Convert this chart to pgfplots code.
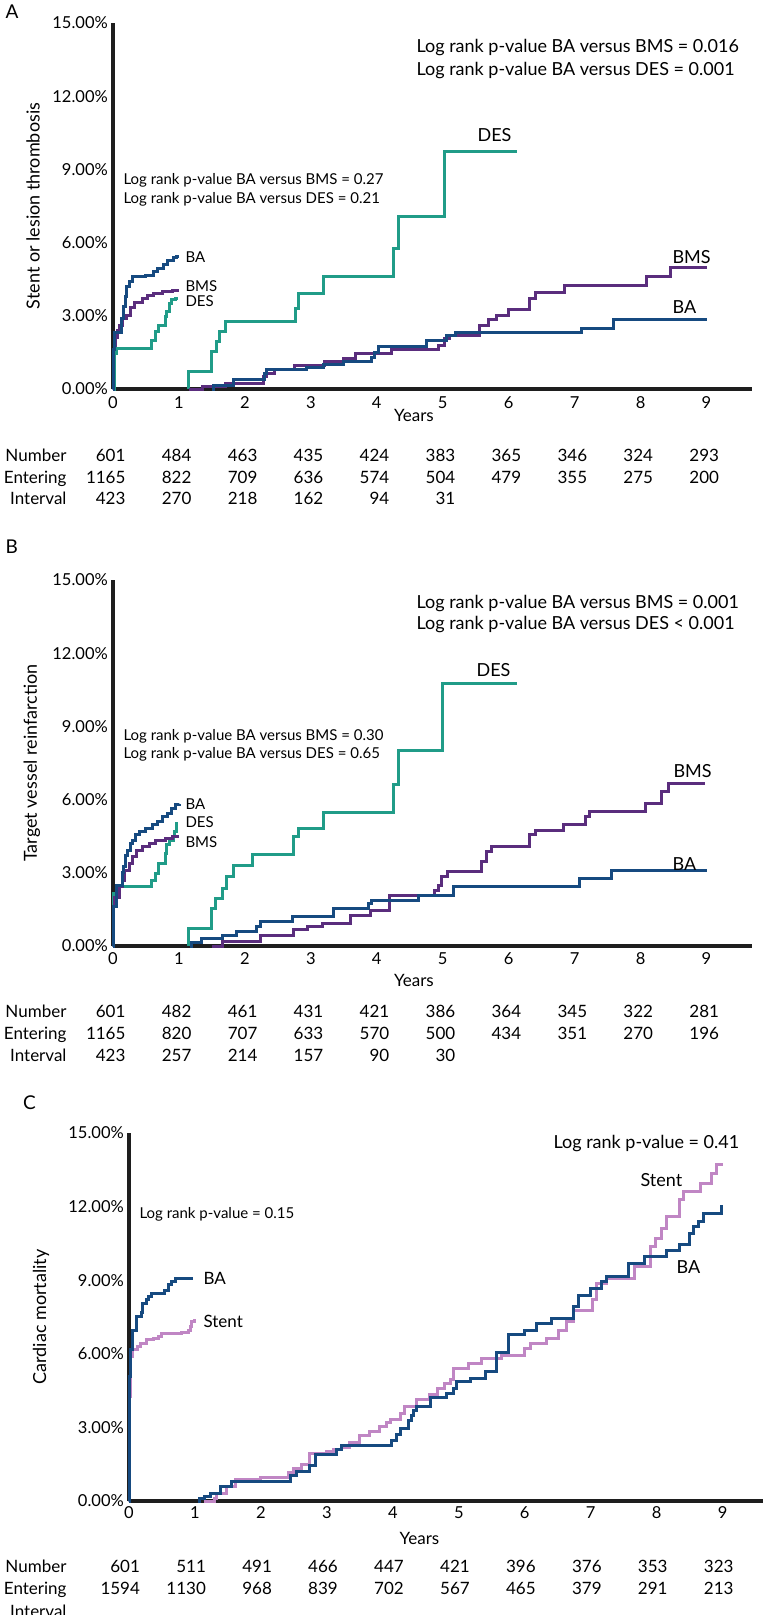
\documentclass[border=0pt]{standalone}
\usepackage{pgfplots}
\pgfplotsset{compat=1.18}
\usepackage{fontspec}
\setmainfont{Lato}
\definecolor{cBA}{RGB}{22,74,128}
\definecolor{cBMS}{RGB}{90,45,125}
\definecolor{cDES}{RGB}{32,156,136}
\definecolor{cST}{RGB}{192,134,196}
\definecolor{cAx}{RGB}{30,30,30}
\newcommand{\fs}[1]{\fontsize{#1pt}{#1pt}\selectfont}
\pgfplotsset{
 km/.style={scale only axis, anchor=south west, xmin=0, ymin=0, ymax=15,
  axis x line*=bottom, axis y line*=left,
  axis line style={-, line width=3.2pt, draw=cAx},
  xtick={0,1,2,3,4,5,6,7,8,9}, xticklabels={0,1,2,3,4,5,6,7,8,9},
  ytick={0,3,6,9,12,15}, yticklabels={0.00\%,3.00\%,6.00\%,9.00\%,12.00\%,15.00\%},
  major tick length=0pt, tick style={draw=none},
  xticklabel style={font=\fs{16.5}, anchor=center, inner sep=0pt},
  yticklabel style={font=\fs{16.5}, anchor=east, inner sep=0pt, xshift=-5pt},
  clip=false},
 kp/.style={const plot, line width=3pt, mark=none},
}
\newcommand{\riskrow}[4]{%
 \node[anchor=base east,font=\fs{17}] at (70pt,-#2pt) {#3};
 \foreach \v [count=\i from 0] in {#4} {\node[anchor=base east,font=\fs{17}] at ({#1pt+65.95pt*\i},-#2pt) {\v};}
}
\begin{document}
\begin{tikzpicture}
\useasboundingbox (0,0) rectangle (763pt,-1615pt);
% ---------------- Panel A ----------------
\begin{axis}[km, at={(113pt,-389pt)}, xmax=9.69, width=639pt, height=366pt,
  xticklabel style={yshift=-14pt}]
\addplot[kp, cBMS] coordinates {(0,0)(0.01,1.5)(0.04,2.1)(0.07,2.4)(0.1,2.6)(0.14,2.9)(0.2,3.0)(0.26,3.35)(0.33,3.55)(0.45,3.7)(0.52,3.85)(0.62,3.92)(0.75,3.98)(0.9,4.02)(1.0,4.02)};
\addplot[kp, cDES] coordinates {(0,0)(0.02,1.46)(0.05,1.67)(0.59,2.0)(0.64,2.35)(0.69,2.62)(0.79,2.96)(0.81,3.17)(0.86,3.51)(0.89,3.65)(0.95,3.69)(0.99,3.69)};
\addplot[kp, cBA] coordinates {(0,0)(0.01,1.6)(0.03,2.3)(0.13,2.9)(0.16,3.4)(0.19,3.8)(0.21,4.2)(0.25,4.4)(0.29,4.6)(0.5,4.67)(0.62,4.8)(0.68,4.95)(0.76,5.1)(0.82,5.25)(0.92,5.38)(0.97,5.42)(1.0,5.42)};
\addplot[kp, cDES] coordinates {(1.14,0)(1.14,0.71)(1.5,1.53)(1.57,1.94)(1.62,2.35)(1.7,2.78)(2.76,3.31)(2.81,3.92)(3.19,4.6)(4.25,5.77)(4.33,7.05)(5.02,9.75)(6.13,9.75)};
\addplot[kp, cBMS] coordinates {(1.16,0)(1.35,0.12)(1.7,0.22)(2.28,0.5)(2.33,0.64)(2.45,0.78)(2.75,0.98)(3.2,1.12)(3.5,1.26)(3.67,1.46)(4.22,1.6)(4.93,1.8)(5.03,2.05)(5.1,2.21)(5.56,2.62)(5.7,2.83)(5.82,3.03)(6.0,3.24)(6.32,3.72)(6.4,3.95)(6.85,4.26)(8.09,4.6)(8.45,5.0)(9.0,5.0)};
\addplot[kp, cBA] coordinates {(1.5,0)(1.52,0.16)(1.83,0.4)(2.3,0.62)(2.33,0.78)(2.94,0.9)(3.19,1.0)(3.5,1.12)(3.92,1.3)(3.97,1.5)(4.02,1.74)(4.76,2.0)(5.06,2.2)(5.19,2.31)(7.11,2.49)(7.59,2.83)(9.0,2.83)};
\end{axis}
\node[anchor=base west,font=\fs{19}] at (2pt,-18pt) {A};
\node[rotate=90,font=\fs{18}] at (33pt,-206pt) {Stent or lesion thrombosis};
\node[anchor=base,font=\fs{17}] at (414pt,-421pt) {Years};
\node[anchor=base west,font=\fs{18}] at (413pt,-52pt) {Log rank p-value BA versus BMS = 0.016};
\node[anchor=base west,font=\fs{18}] at (413pt,-75pt) {Log rank p-value BA versus DES = 0.001};
\node[anchor=base west,font=\fs{15}] at (120pt,-184pt) {Log rank p-value BA versus BMS = 0.27};
\node[anchor=base west,font=\fs{15}] at (120pt,-203pt) {Log rank p-value BA versus DES = 0.21};
\node[anchor=base west,font=\fs{15}] at (182pt,-262pt) {BA};
\node[anchor=base west,font=\fs{15}] at (182pt,-291pt) {BMS};
\node[anchor=base west,font=\fs{15}] at (182pt,-306pt) {DES};
\node[anchor=base east,font=\fs{18}] at (515pt,-141pt) {DES};
\node[anchor=base west,font=\fs{18}] at (669pt,-263pt) {BMS};
\node[anchor=base west,font=\fs{18}] at (669pt,-313pt) {BA};
\riskrow{129}{461}{Number}{601,484,463,435,424,383,365,346,324,293}
\riskrow{129}{483}{Entering}{1165,822,709,636,574,504,479,355,275,200}
\riskrow{129}{504}{Interval}{423,270,218,162,94,31}
% ---------------- Panel B ----------------
\begin{axis}[km, at={(113pt,-946pt)}, xmax=9.69, width=639pt, height=366pt,
  xticklabel style={yshift=-13pt}]
\addplot[kp, cDES] coordinates {(0,0)(0.01,2.16)(0.05,2.43)(0.59,2.7)(0.64,2.98)(0.69,3.39)(0.79,3.8)(0.81,4.14)(0.86,4.34)(0.91,4.48)(0.94,4.69)(0.97,5.1)};
\addplot[kp, cBMS] coordinates {(0,0)(0.01,1.6)(0.03,2.0)(0.1,2.43)(0.15,2.7)(0.18,3.11)(0.25,3.39)(0.3,3.66)(0.36,3.93)(0.45,4.07)(0.55,4.21)(0.65,4.34)(0.8,4.41)(0.9,4.48)(1.0,4.48)};
\addplot[kp, cBA] coordinates {(0,0)(0.005,1.6)(0.06,2.5)(0.14,3.0)(0.16,3.25)(0.19,3.73)(0.22,3.93)(0.26,4.21)(0.29,4.34)(0.34,4.55)(0.4,4.69)(0.5,4.82)(0.6,4.96)(0.68,5.1)(0.75,5.3)(0.82,5.44)(0.88,5.64)(0.95,5.78)(1.01,5.81)};
\addplot[kp, cDES] coordinates {(1.14,0)(1.14,0.72)(1.5,1.54)(1.56,1.95)(1.66,2.36)(1.72,2.84)(1.83,3.32)(2.11,3.77)(2.74,4.48)(2.81,4.82)(3.19,5.48)(4.26,6.6)(4.33,8.03)(5.0,10.74)(6.13,10.74)};
\addplot[kp, cBMS] coordinates {(1.5,0)(1.66,0.2)(2.24,0.42)(2.74,0.66)(2.95,0.8)(3.17,0.93)(3.6,1.25)(3.9,1.45)(4.19,2.09)(4.88,2.29)(4.93,2.5)(4.98,2.84)(5.08,3.05)(5.59,3.46)(5.67,3.87)(5.74,4.07)(6.32,4.55)(6.4,4.75)(6.83,4.96)(7.16,5.3)(7.23,5.5)(8.07,5.85)(8.32,6.32)(8.42,6.67)(8.97,6.67)};
\addplot[kp, cBA] coordinates {(1.17,0)(1.19,0.15)(1.34,0.3)(1.66,0.45)(1.87,0.6)(2.18,0.79)(2.23,1.0)(2.72,1.2)(3.34,1.54)(3.87,1.75)(3.92,1.88)(4.64,2.08)(5.16,2.43)(7.08,2.77)(7.56,3.09)(9.0,3.09)};
\end{axis}
\node[anchor=base west,font=\fs{19}] at (2pt,-553pt) {B};
\node[rotate=90,font=\fs{18}] at (32pt,-763pt) {Target vessel reinfarction};
\node[anchor=base,font=\fs{17}] at (414pt,-986pt) {Years};
\node[anchor=base west,font=\fs{18}] at (413pt,-608pt) {Log rank p-value BA versus BMS = 0.001};
\node[anchor=base west,font=\fs{18}] at (413pt,-629pt) {Log rank p-value BA versus DES < 0.001};
\node[anchor=base west,font=\fs{15}] at (120pt,-740pt) {Log rank p-value BA versus BMS = 0.30};
\node[anchor=base west,font=\fs{15}] at (120pt,-758pt) {Log rank p-value BA versus DES = 0.65};
\node[anchor=base west,font=\fs{15}] at (182pt,-809pt) {BA};
\node[anchor=base west,font=\fs{15}] at (182pt,-827pt) {DES};
\node[anchor=base west,font=\fs{15}] at (182pt,-847pt) {BMS};
\node[anchor=base east,font=\fs{18}] at (514pt,-676pt) {DES};
\node[anchor=base west,font=\fs{18}] at (670pt,-777pt) {BMS};
\node[anchor=base west,font=\fs{18}] at (669pt,-870pt) {BA};
\riskrow{129}{1017}{Number}{601,482,461,431,421,386,364,345,322,281}
\riskrow{129}{1039}{Entering}{1165,820,707,633,570,500,434,351,270,196}
\riskrow{129}{1061}{Interval}{423,257,214,157,90,30}
% ---------------- Panel C ----------------
\begin{axis}[km, at={(129pt,-1501pt)}, xmax=9.8, width=646.4pt, height=368pt,
  xticklabel style={yshift=-12pt}]
\addplot[kp, cST] coordinates {(0,0)(0.005,2.35)(0.01,4.25)(0.02,5.89)(0.06,6.16)(0.13,6.3)(0.17,6.43)(0.27,6.57)(0.37,6.63)(0.45,6.7)(0.5,6.84)(0.8,6.87)(0.9,6.97)(0.93,7.11)(0.95,7.31)(0.99,7.4)};
\addplot[kp, cBA] coordinates {(0,0)(0.003,1.47)(0.01,5.07)(0.03,6.16)(0.06,6.97)(0.11,7.52)(0.19,7.7)(0.21,8.06)(0.26,8.2)(0.29,8.33)(0.34,8.47)(0.54,8.6)(0.6,8.81)(0.65,8.94)(0.7,9.08)(0.97,9.08)};
\addplot[kp, cST] coordinates {(1.13,0)(1.3,0.1)(1.32,0.32)(1.48,0.59)(1.61,0.86)(1.99,0.97)(2.42,1.15)(2.49,1.34)(2.62,1.5)(2.74,1.95)(2.99,2.01)(3.1,2.1)(3.22,2.2)(3.35,2.4)(3.5,2.69)(3.65,2.83)(3.8,3.05)(3.9,3.2)(3.96,3.31)(4.11,3.55)(4.18,3.85)(4.36,4.12)(4.56,4.35)(4.68,4.6)(4.79,4.8)(4.87,4.94)(4.92,5.41)(5.14,5.61)(5.35,5.82)(5.65,5.95)(6.0,6.2)(6.08,6.43)(6.33,6.63)(6.51,6.97)(6.64,7.31)(6.74,7.76)(7.02,8.2)(7.09,8.88)(7.24,9.08)(7.67,9.55)(7.9,10.37)(7.98,10.71)(8.08,11.12)(8.15,11.59)(8.35,12.27)(8.4,12.61)(8.66,12.95)(8.83,13.36)(8.91,13.7)(8.99,13.77)};
\addplot[kp, cBA] coordinates {(1.05,0)(1.07,0.1)(1.15,0.2)(1.23,0.32)(1.38,0.59)(1.56,0.8)(2.45,1.02)(2.54,1.2)(2.74,1.45)(2.82,1.88)(3.15,2.08)(3.22,2.25)(3.98,2.48)(4.06,2.7)(4.11,2.97)(4.23,3.3)(4.28,3.5)(4.31,3.7)(4.36,3.85)(4.57,4.22)(4.82,4.39)(4.92,4.6)(4.97,4.87)(5.17,5.0)(5.4,5.27)(5.57,6.06)(5.75,6.77)(6.0,6.97)(6.18,7.24)(6.41,7.45)(6.74,7.92)(6.81,8.37)(6.99,8.67)(7.17,8.94)(7.24,9.17)(7.57,9.69)(7.82,9.96)(8.15,10.23)(8.35,10.44)(8.5,10.91)(8.56,11.18)(8.63,11.39)(8.71,11.73)(8.99,12.07)};
\end{axis}
\node[anchor=base west,font=\fs{19}] at (19.5pt,-1109pt) {C};
\node[rotate=90,font=\fs{18}] at (41pt,-1317pt) {Cardiac mortality};
\node[anchor=base,font=\fs{17}] at (419.5pt,-1544pt) {Years};
\node[anchor=base west,font=\fs{18}] at (550pt,-1148pt) {Log rank p-value = 0.41};
\node[anchor=base west,font=\fs{15}] at (136pt,-1218pt) {Log rank p-value = 0.15};
\node[anchor=base west,font=\fs{17}] at (200pt,-1284pt) {BA};
\node[anchor=base west,font=\fs{17}] at (200pt,-1327pt) {Stent};
\node[anchor=base west,font=\fs{18}] at (637pt,-1186pt) {Stent};
\node[anchor=base west,font=\fs{18}] at (673pt,-1273pt) {BA};
\riskrow{143.5}{1572}{Number}{601,511,491,466,447,421,396,376,353,323}
\riskrow{143.5}{1594}{Entering}{1594,1130,968,839,702,567,465,379,291,213}
\node[anchor=base east,font=\fs{17}] at (70pt,-1617pt) {Interval};
\end{tikzpicture}
\end{document}
